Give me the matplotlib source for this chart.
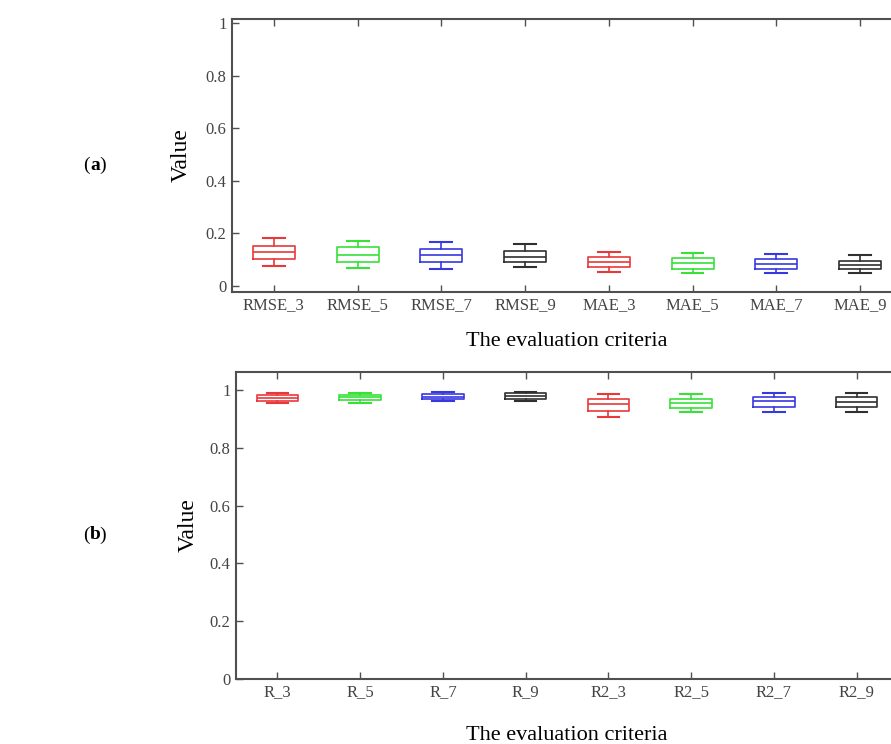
import matplotlib
matplotlib.use("Agg")
import matplotlib.pyplot as plt
from matplotlib.ticker import FixedLocator, FuncFormatter

# Panel (a): error criteria
labels_a = ["RMSE_3", "RMSE_5", "RMSE_7", "RMSE_9", "MAE_3", "MAE_5", "MAE_7", "MAE_9"]
low_a = [0.076, 0.070, 0.066, 0.071, 0.053, 0.048, 0.048, 0.048]
q1_a = [0.101, 0.092, 0.092, 0.092, 0.071, 0.065, 0.066, 0.065]
med_a = [0.130, 0.118, 0.117, 0.111, 0.090, 0.086, 0.084, 0.081]
q3_a = [0.153, 0.149, 0.141, 0.134, 0.111, 0.108, 0.101, 0.096]
high_a = [0.181, 0.171, 0.166, 0.158, 0.130, 0.127, 0.122, 0.118]

# Panel (b): correlation criteria
labels_b = ["R_3", "R_5", "R_7", "R_9", "R2_3", "R2_5", "R2_7", "R2_9"]
low_b = [0.954, 0.956, 0.960, 0.961, 0.908, 0.923, 0.923, 0.923]
q1_b = [0.962, 0.964, 0.969, 0.970, 0.928, 0.937, 0.942, 0.940]
med_b = [0.971, 0.974, 0.977, 0.979, 0.950, 0.954, 0.960, 0.959]
q3_b = [0.983, 0.983, 0.986, 0.988, 0.969, 0.969, 0.975, 0.974]
high_b = [0.991, 0.991, 0.993, 0.994, 0.986, 0.986, 0.991, 0.991]

yticks = [0, 0.2, 0.4, 0.6, 0.8, 1.0]
colors = ["#e8383a", "#38e038", "#3838e0", "#303030"] * 2

SERIF = ["Liberation Serif", "DejaVu Serif"]
TICK_COLOR = "#444444"
SPINE_COLOR = "#505050"


def make_stats(labels, low, q1, med, q3, high):
    return [
        dict(label=l, whislo=lo, q1=a, med=m, q3=b, whishi=hi, fliers=[])
        for l, lo, a, m, b, hi in zip(labels, low, q1, med, q3, high)
    ]


def draw_panel(ax, stats, ylim, ylabelpad, xlabelpad):
    pos = list(range(1, len(stats) + 1))
    res = ax.bxp(stats, positions=pos, widths=0.5, capwidths=0.26,
                 showfliers=False, patch_artist=False, manage_ticks=False)
    for i, c in enumerate(colors):
        res["boxes"][i].set(color=c, linewidth=1.2)
        res["medians"][i].set(color=c, linewidth=1.2)
        for k in (2 * i, 2 * i + 1):
            res["whiskers"][k].set(color=c, linewidth=1.2)
            res["caps"][k].set(color=c, linewidth=1.5)
    ax.set_xlim(0.5, len(stats) + 0.5)
    ax.set_ylim(*ylim)
    ax.xaxis.set_major_locator(FixedLocator(pos))
    ax.set_xticklabels([s["label"] for s in stats])
    ax.yaxis.set_major_locator(FixedLocator(yticks))
    ax.yaxis.set_major_formatter(FuncFormatter(lambda v, p: f"{v:g}"))
    ax.tick_params(direction="in", length=5, width=1.0, color=SPINE_COLOR,
                   labelcolor=TICK_COLOR, labelsize=12,
                   top=True, right=True)
    ax.tick_params(axis="x", pad=4)
    ax.tick_params(axis="y", pad=4)
    for lab in ax.get_xticklabels() + ax.get_yticklabels():
        lab.set_family(SERIF)
    for sp in ax.spines.values():
        sp.set_color(SPINE_COLOR)
        sp.set_linewidth(1.5)
    ax.set_ylabel("Value", family=SERIF, fontsize=17, color="black",
                  labelpad=ylabelpad)
    ax.set_xlabel("The evaluation criteria", family=SERIF, fontsize=16,
                  color="black", labelpad=xlabelpad)


fig = plt.figure(figsize=(8.91, 7.44), dpi=100)

ax_a = fig.add_axes([0.2604, 0.6075, 0.7519, 0.3670])
draw_panel(ax_a, make_stats(labels_a, low_a, q1_a, med_a, q3_a, high_a),
           (-0.023, 1.015), ylabelpad=10, xlabelpad=13)

ax_b = fig.add_axes([0.2649, 0.0874, 0.7430, 0.4126])
draw_panel(ax_b, make_stats(labels_b, low_b, q1_b, med_b, q3_b, high_b),
           (0.0, 1.062), ylabelpad=7.5, xlabelpad=18)

for y, letter in ((0.778, "a"), (0.281, "b")):
    fig.text(0.101, y, "(", family=SERIF, fontsize=14, ha="right", va="center")
    fig.text(0.101, y, letter, family=SERIF, fontsize=14, fontweight="bold",
             ha="left", va="center")
    fig.text(0.1115, y, ")", family=SERIF, fontsize=14, ha="left", va="center")

fig.savefig("out.png", dpi=100)
